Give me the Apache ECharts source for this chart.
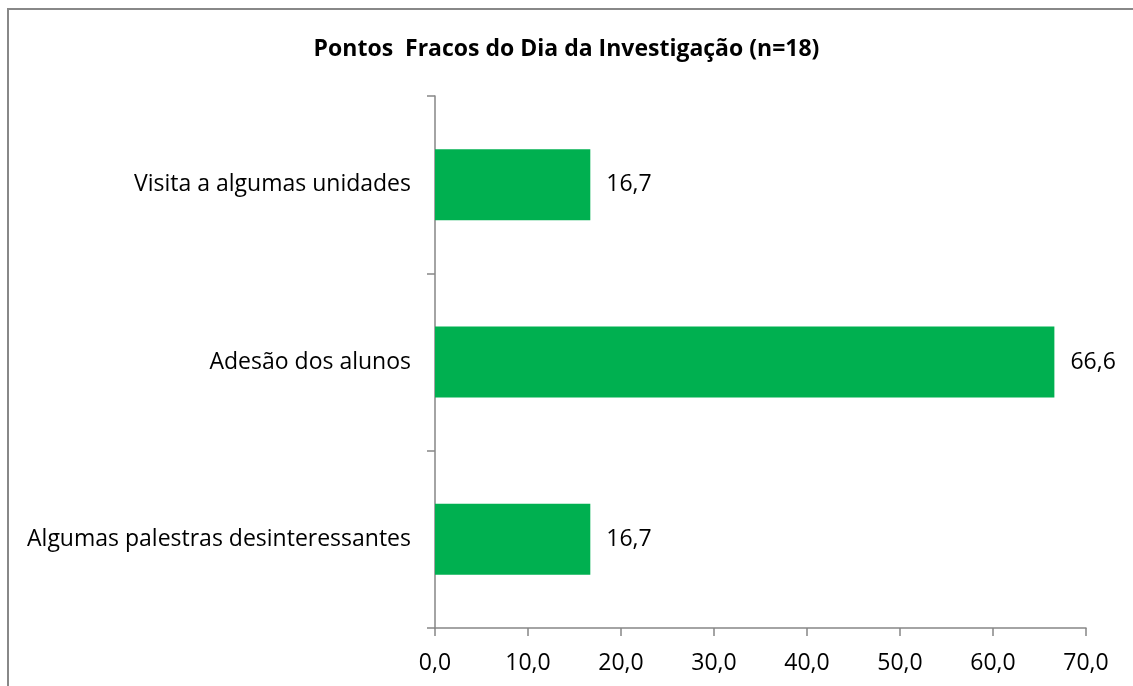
<!DOCTYPE html>
<html>
<head>
<meta charset="utf-8">
<script src="https://cdn.jsdelivr.net/npm/echarts@6/dist/echarts.min.js"></script>
<style>
  html, body { margin: 0; padding: 0; background: #fff; overflow: hidden; }
  #frame {
    position: absolute; left: 7px; top: 8px; width: 1140px; height: 700px;
    border: 2px solid #888888; box-sizing: border-box;
  }
  #chart { position: absolute; left: 0; top: 0; width: 1133px; height: 686px; }
</style>
</head>
<body>
<div id="frame"></div>
<div id="chart"></div>
<script>
const categories = ['Visita a algumas unidades', 'Adesão dos alunos', 'Algumas palestras desinteressantes'];
const values = [16.7, 66.6, 16.7];
const xTicks = [0, 10, 20, 30, 40, 50, 60, 70];

const fmt = v => v.toFixed(1).replace('.', ',');
const font = '"Open Sans", sans-serif';
const axisColor = '#868686';

const chart = echarts.init(document.getElementById('chart'));
chart.setOption({
  animation: false,
  title: {
    text: 'Pontos  Fracos do Dia da Investigação (n=18)',
    left: 'center',
    top: 33,
    textStyle: { fontFamily: font, fontWeight: 'bold', fontSize: 23, color: '#000' }
  },
  grid: { left: 435, right: 47, top: 96, bottom: 58, containLabel: false },
  xAxis: {
    type: 'value',
    min: xTicks[0],
    max: xTicks[xTicks.length - 1],
    interval: 10,
    axisLine: { show: true, lineStyle: { color: axisColor, width: 1.5 } },
    axisTick: { show: true, length: 8, inside: false, lineStyle: { color: axisColor, width: 1.5 } },
    axisLabel: { formatter: fmt, fontFamily: font, fontSize: 23, color: '#000', margin: 24 },
    splitLine: { show: false }
  },
  yAxis: {
    type: 'category',
    data: categories,
    inverse: true,
    axisLine: { show: true, lineStyle: { color: axisColor, width: 1.5 } },
    axisTick: { show: true, length: 8, lineStyle: { color: axisColor, width: 1.5 } },
    axisLabel: { fontFamily: font, fontSize: 23, color: '#000', margin: 24 }
  },
  series: [{
    type: 'bar',
    data: values,
    barWidth: 71,
    itemStyle: { color: '#00B050' },
    label: {
      show: true,
      position: 'right',
      distance: 16,
      formatter: p => fmt(p.value),
      fontFamily: font,
      fontSize: 23,
      color: '#000'
    }
  }]
});
</script>
</body>
</html>
